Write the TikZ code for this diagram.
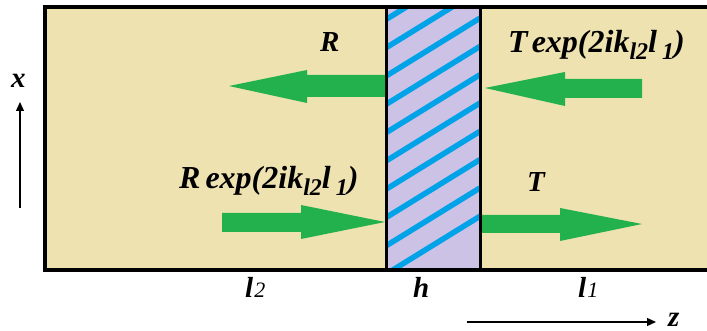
\documentclass[tikz,border=0pt]{standalone}
\usepackage{fontspec}
\setmainfont{Liberation Serif}
\usetikzlibrary{arrows.meta}
\definecolor{sand}{RGB}{238,226,176}
\definecolor{lav}{RGB}{203,194,230}
\definecolor{stripe}{RGB}{0,162,232}
\definecolor{grn}{RGB}{34,177,76}
\newcommand\lowsub[1]{\raisebox{-0.45ex}{\fontsize{24}{24}\selectfont #1}}
\newcommand\expterm{exp(2ik\lowsub{l2}l\kern5pt\lowsub{1})}
\tikzset{
  lab/.style={font=\fontsize{32}{35}\selectfont\bfseries\itshape, inner sep=0pt, anchor=base west},
  small/.style={font=\fontsize{29}{32}\selectfont\bfseries\itshape},
  axis/.style={line width=1.3pt, -{Triangle[length=9pt,width=8pt]}},
}
\begin{document}
\begin{tikzpicture}[x=1pt,y=-1pt]
\useasboundingbox (0,0) rectangle (707,331);
% background region
\fill[sand] (45,7) rectangle (712,270);
% slab
\fill[lav] (386,7) rectangle (480,270);
\begin{scope}
\clip (386,7) rectangle (480,270);
\foreach \k in {-3,...,9}{
  \draw[stripe, line width=5.5pt] (386,{19.5+28.3*\k}) -- (480,{19.5+28.3*\k-58});
}
\end{scope}
\draw[line width=3pt] (386,7) -- (386,270);
\draw[line width=3pt] (480,7) -- (480,270);
\draw[line width=4pt] (45,7) rectangle (712,270);
% green arrows
\fill[grn] (385,75) -- (307,75) -- (307,70) -- (229,86) -- (307,103) -- (307,97) -- (385,97) -- cycle;
\fill[grn] (642,79) -- (565,79) -- (565,72) -- (485,88) -- (565,106) -- (565,98) -- (642,98) -- cycle;
\fill[grn] (222,213) -- (301,213) -- (301,205) -- (385,222) -- (301,239) -- (301,232) -- (222,232) -- cycle;
\fill[grn] (482,215) -- (560,215) -- (560,208) -- (642,224) -- (560,241) -- (560,233) -- (482,233) -- cycle;
% labels
\node[lab, small] (lR) at (320,52) {R};
\node[lab] (lTexp) at (508,53) {T\kern4pt\expterm};
\node[lab] (lRexp) at (179,189) {R\kern5pt\expterm};
\node[lab, small] (lT) at (527,192) {T};
\node[lab, small] (ll2) at (245,297) {l\kern1pt{\fontsize{22}{22}\selectfont\mdseries\itshape 2}};
\node[lab, small] (lh) at (413,297) {h};
\node[lab, small] (ll1) at (578,297) {l\kern1pt{\fontsize{22}{22}\selectfont\mdseries\itshape 1}};
\node[lab, small] (lx) at (11,88) {x};
\node[lab, small] (lz) at (668,326) {z};
% axes
\coordinate (xb) at (20,208);
\coordinate (xt) at (20,102);
\coordinate (zb) at (467,322);
\coordinate (zt) at (656,322);
\draw[axis] (xb) -- (xt);
\draw[axis] (zb) -- (zt);
\end{tikzpicture}
\end{document}
